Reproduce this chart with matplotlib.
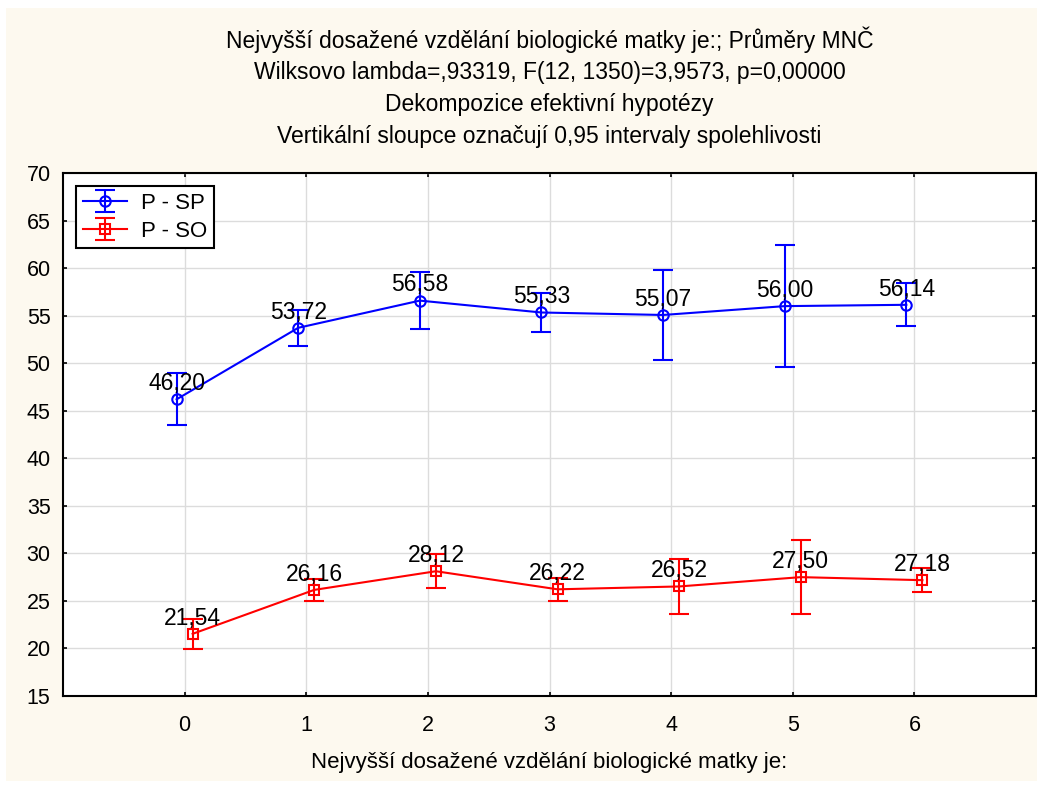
import numpy as np
import matplotlib
matplotlib.use("Agg")
from matplotlib import pyplot as plt
from matplotlib.patches import Rectangle

plt.rcParams['font.family'] = ['Liberation Sans', 'DejaVu Sans']

# data
levels = [0, 1, 2, 3, 4, 5, 6]
sp_mean = [46.20, 53.72, 56.58, 55.33, 55.07, 56.00, 56.14]
sp_ci = [2.74, 1.90, 3.00, 2.05, 4.75, 6.40, 2.24]
so_mean = [21.54, 26.16, 28.12, 26.22, 26.52, 27.50, 27.18]
so_ci = [1.60, 1.15, 1.80, 1.20, 2.90, 3.90, 1.27]
sp_label = 'P - SP'
so_label = 'P - SO'

title_lines = [
    'Nejvyšší dosažené vzdělání biologické matky je:; Průměry MNČ',
    'Wilksovo lambda=,93319, F(12, 1350)=3,9573, p=0,00000',
    'Dekompozice efektivní hypotézy',
    'Vertikální sloupce označují 0,95 intervaly spolehlivosti',
]
xlabel = 'Nejvyšší dosažené vzdělání biologické matky je:'

fig = plt.figure(figsize=(10.43, 7.87), dpi=100)
fig.patch.set_facecolor('white')
fig.patches.append(Rectangle((6 / 1043, 6 / 787), 1 - 12 / 1043, 1 - 14 / 787,
                             transform=fig.transFigure, facecolor='#fdf9ef',
                             edgecolor='none', zorder=-10))

ax = fig.add_axes([63 / 1043, 1 - 696 / 787, 973 / 1043, 523 / 787])
ax.set_facecolor('white')

x = np.array(levels)
off = 0.066
ax.errorbar(x - off, sp_mean, yerr=sp_ci, color='#0000ff', marker='o', ms=7.5,
            mfc='none', mew=1.5, lw=1.5, capsize=7, elinewidth=1.5, label=sp_label)
ax.errorbar(x + off, so_mean, yerr=so_ci, color='#ff0000', marker='s', ms=7.5,
            mfc='none', mew=1.5, lw=1.5, capsize=7, elinewidth=1.5, label=so_label)

for xi, m in zip(x - off, sp_mean):
    ax.annotate(f'{m:.2f}'.replace('.', ','), (xi, m), xytext=(0, 3),
                textcoords='offset points', ha='center', va='bottom', fontsize=16.5)
for xi, m in zip(x + off, so_mean):
    ax.annotate(f'{m:.2f}'.replace('.', ','), (xi, m), xytext=(0, 3),
                textcoords='offset points', ha='center', va='bottom', fontsize=16.5)

ax.set_xlim(-1, 7)
ax.set_ylim(15, 70)
ax.set_xticks(levels)
ax.set_yticks(np.arange(15, 71, 5))
ax.grid(True, color='#dcdcdc', lw=1)
ax.set_axisbelow(True)
ax.tick_params(direction='in', length=3, width=1.2, top=True, right=True,
               labelsize=15.5)
ax.tick_params(axis='x', pad=14)
ax.tick_params(axis='y', pad=9)
for s in ax.spines.values():
    s.set_linewidth(1.5)
    s.set_color('black')

ax.set_xlabel(xlabel, fontsize=16, labelpad=11)

leg = ax.legend(loc='upper left', fontsize=16, fancybox=False, framealpha=1,
                edgecolor='black', borderaxespad=0.6, handlelength=2.0,
                borderpad=0.3, labelspacing=0.3, handletextpad=0.6)
leg.get_frame().set_linewidth(1.5)

cx = (63 + 1036) / 2 / 1043
for i, t in enumerate(title_lines):
    fig.text(cx, 1 - (40 + 32.3 * i) / 787, t, ha='center', va='center', fontsize=16.5)

fig.savefig('out.png', dpi=100, facecolor=fig.get_facecolor())
